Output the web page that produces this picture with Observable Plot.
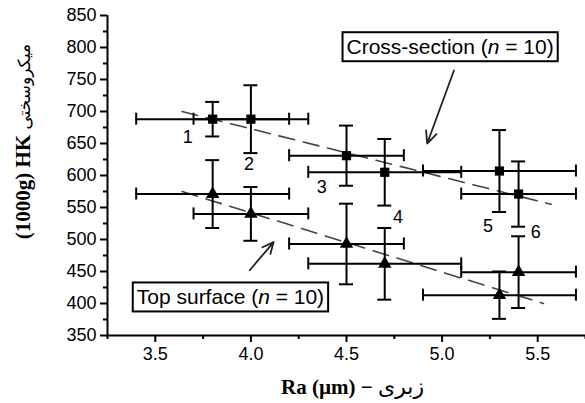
<!DOCTYPE html>
<html>
<head>
<meta charset="utf-8">
<script src="https://cdn.jsdelivr.net/npm/d3@7"></script>
<script src="https://cdn.jsdelivr.net/npm/@observablehq/plot@0.6"></script>
<style>
  html, body { margin: 0; padding: 0; background: #fff; }
</style>
</head>
<body>
<script>
// Cross-section (squares)
const crossX    = [3.8, 4.0, 4.5, 4.7, 5.3, 5.4];
const crossY    = [688, 688, 631, 605, 607, 571];
const crossXErr = [0.4, 0.3, 0.3, 0.4, 0.4, 0.3];
const crossYErr = [27, 53, 47, 52, 64, 51];
// Top surface (triangles)
const topX    = [3.8, 4.0, 4.5, 4.7, 5.3, 5.4];
const topY    = [571, 540, 493, 462, 413, 449];
const topXErr = [0.4, 0.3, 0.3, 0.4, 0.4, 0.3];
const topYErr = [53, 42, 63, 56, 37, 56];
// Regression (dashed) lines
const crossFitX = [3.64, 5.57];
const crossFitY = [700, 555];
const topFitX   = [3.64, 5.53];
const topFitY   = [575, 400];
// Point number labels
const pointLabels = ["1", "2", "3", "4", "5", "6"];
const pointLabelX = [3.67, 3.99, 4.37, 4.77, 5.24, 5.49];
const pointLabelY = [660, 618, 582, 535, 520, 511];
// Annotations
const annotText = ["Cross-section (n = 10)", "Top surface (n = 10)"];
const annotX = [5.042, 3.893];
const annotY = [800, 409];
const arrowX1 = [5.062, 3.994];
const arrowY1 = [764, 452];
const arrowX2 = [4.922, 4.119];
const arrowY2 = [650, 496];
// Axes
const xTicks = [3.5, 4.0, 4.5, 5.0, 5.5];
const xMinor = [3.25, 3.75, 4.25, 4.75, 5.25, 5.75];
const yTicks = [350, 400, 450, 500, 550, 600, 650, 700, 750, 800, 850];
const yMinor = [375, 425, 475, 525, 575, 625, 675, 725, 775, 825];
const xDomain = [3.25, 5.75];
const yDomain = [350, 850];
const xLabel = "Ra (µm) − زبری";
const yLabel = "(1000g) HK میکروسختی";

const mk = (X, Y, XE, YE) => X.map((x, i) => ({x, y: Y[i], ex: XE[i], ey: YE[i]}));
const cross = mk(crossX, crossY, crossXErr, crossYErr);
const top_ = mk(topX, topY, topXErr, topYErr);
const allPts = cross.concat(top_);
const fits = [
  ...crossFitX.map((x, i) => ({x, y: crossFitY[i], s: "cross"})),
  ...topFitX.map((x, i) => ({x, y: topFitY[i], s: "top"}))
];
const labels = pointLabels.map((t, i) => ({t, x: pointLabelX[i], y: pointLabelY[i]}));
const annots = annotText.map((t, i) => ({t, x: annotX[i], y: annotY[i]}));
const arrows = arrowX1.map((x1, i) => ({x1, y1: arrowY1[i], x2: arrowX2[i], y2: arrowY2[i]}));

const sans = "Liberation Sans, Arial, Helvetica, sans-serif";
const serif = "Liberation Serif, Times New Roman, serif";

const svg = Plot.plot({
  width: 585,
  height: 403,
  marginLeft: 107,
  marginRight: 0,
  marginTop: 15,
  marginBottom: 68,
  style: {fontFamily: sans, fontSize: "18px", background: "#fff", color: "#000"},
  x: {domain: xDomain},
  y: {domain: yDomain},
  marks: [
    Plot.axisX(xTicks, {tickSize: 7, tickPadding: 5, strokeWidth: 2, label: null, tickFormat: d3.format(".1f"), fontSize: 18}),
    Plot.axisX(xMinor, {tickSize: 4, strokeWidth: 2, label: null, tickFormat: () => ""}),
    Plot.axisY(yTicks, {tickSize: 7, tickPadding: 4, strokeWidth: 2, label: null, fontSize: 18}),
    Plot.axisY(yMinor, {tickSize: 4, strokeWidth: 2, label: null, tickFormat: () => ""}),
    Plot.ruleX([xDomain[0]], {stroke: "#000", strokeWidth: 2}),
    Plot.ruleY([yDomain[0]], {stroke: "#000", strokeWidth: 2}),
    // dashed fit lines
    Plot.line(fits, {x: "x", y: "y", z: "s", stroke: "#444", strokeWidth: 1.6, strokeDasharray: "16,9"}),
    // error bars: horizontal
    Plot.ruleY(allPts, {y: "y", x1: d => d.x - d.ex, x2: d => d.x + d.ex, stroke: "#000", strokeWidth: 2}),
    Plot.ruleX(allPts, {x: d => d.x - d.ex, y1: "y", y2: "y", insetTop: -6, insetBottom: -6, stroke: "#000", strokeWidth: 2}),
    Plot.ruleX(allPts, {x: d => d.x + d.ex, y1: "y", y2: "y", insetTop: -6, insetBottom: -6, stroke: "#000", strokeWidth: 2}),
    // error bars: vertical
    Plot.ruleX(allPts, {x: "x", y1: d => d.y - d.ey, y2: d => d.y + d.ey, stroke: "#000", strokeWidth: 2}),
    Plot.ruleY(allPts, {y: d => d.y - d.ey, x1: "x", x2: "x", insetLeft: -7, insetRight: -7, stroke: "#000", strokeWidth: 2}),
    Plot.ruleY(allPts, {y: d => d.y + d.ey, x1: "x", x2: "x", insetLeft: -7, insetRight: -7, stroke: "#000", strokeWidth: 2}),
    // markers
    Plot.dot(cross, {x: "x", y: "y", symbol: "square", r: 5.2, fill: "#000", stroke: "none"}),
    Plot.dot(top_, {x: "x", y: "y", symbol: "triangle", r: 5, fill: "#000", stroke: "none"}),
    // point numbers
    Plot.text(labels, {x: "x", y: "y", text: "t", fontSize: 18, fill: "#000"}),
    // arrows
    Plot.arrow(arrows, {x1: "x1", y1: "y1", x2: "x2", y2: "y2", stroke: "#222", strokeWidth: 1.8, headLength: 11, headAngle: 50}),
    // annotation texts (boxes added after render)
    Plot.text(annots, {x: "x", y: "y", text: "t", fontSize: 21, fill: "#000"}),
    // axis titles
    Plot.text([yLabel], {frameAnchor: "left", textAnchor: "middle", lineAnchor: "middle", dx: -84, dy: -34, rotate: -90, fontFamily: serif, fontWeight: "bold", fontSize: 21, fill: "#000"}),
    Plot.text([xLabel], {frameAnchor: "bottom", textAnchor: "middle", lineAnchor: "middle", dx: 6, dy: 52, fontFamily: serif, fontWeight: "bold", fontSize: 21, fill: "#000"})
  ]
});
document.body.append(svg);

const arabic = /[\u0600-\u06FF]/;
d3.select(svg).selectAll("text").each(function () {
  const t = d3.select(this);
  if (this.querySelector("tspan")) return;
  const s = t.text();
  // Persian part of the axis titles: regular weight, Arabic-capable font
  const m = s.search(arabic);
  if (m > 0) {
    const rotated = /rotate/.test(t.attr("transform") || "");
    t.text(null);
    t.append("tspan").text(s.slice(0, m));
    t.append("tspan")
      .attr("font-family", "DejaVu Sans, Noto Sans, sans-serif")
      .attr("font-weight", "normal")
      .attr("font-size", rotated ? 17 : 22)
      .text(s.slice(m));
    return;
  }
  // annotation boxes with italic n
  const idx = s.indexOf("(n =");
  if (idx >= 0) {
    t.text(null);
    t.append("tspan").text(s.slice(0, idx + 1));
    t.append("tspan").attr("font-style", "italic").text("n");
    t.append("tspan").text(s.slice(idx + 2));
    const bb = this.getBBox();
    const padX = 4, padY = 3;
    const r = d3.select(this.parentNode).insert("rect", () => this)
      .attr("x", bb.x - padX).attr("y", bb.y - padY)
      .attr("width", bb.width + 2 * padX).attr("height", bb.height + 2 * padY)
      .attr("fill", "#fff").attr("stroke", "#000").attr("stroke-width", 2);
    if (t.attr("transform")) r.attr("transform", t.attr("transform"));
  }
});
</script>
</body>
</html>
